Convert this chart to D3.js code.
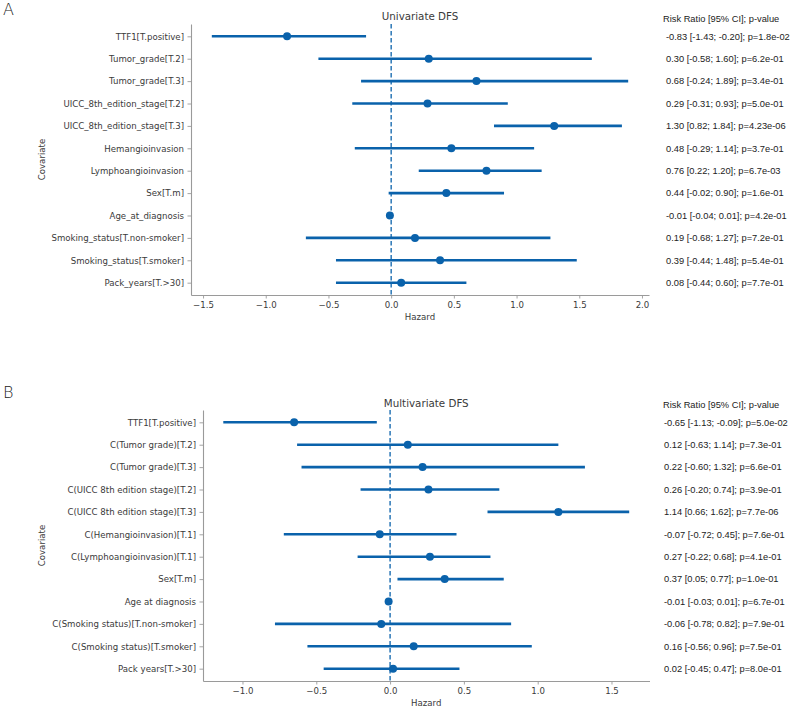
<!DOCTYPE html>
<html>
<head>
<meta charset="utf-8">
<script src="https://cdn.jsdelivr.net/npm/d3@7"></script>
<style>
  html, body { margin: 0; padding: 0; background: #fff; }
  svg { display: block; }
</style>
</head>
<body>
<svg id="chart" width="791" height="710"></svg>
<script>
// ---------- DATA ----------
const uniLabels = ["TTF1[T.positive]", "Tumor_grade[T.2]", "Tumor_grade[T.3]",
  "UICC_8th_edition_stage[T.2]", "UICC_8th_edition_stage[T.3]", "Hemangioinvasion",
  "Lymphoangioinvasion", "Sex[T.m]", "Age_at_diagnosis", "Smoking_status[T.non-smoker]",
  "Smoking_status[T.smoker]", "Pack_years[T.>30]"];
const uniCoef = [-0.83, 0.30, 0.68, 0.29, 1.30, 0.48, 0.76, 0.44, -0.01, 0.19, 0.39, 0.08];
const uniLow  = [-1.43, -0.58, -0.24, -0.31, 0.82, -0.29, 0.22, -0.02, -0.04, -0.68, -0.44, -0.44];
const uniHigh = [-0.20, 1.60, 1.89, 0.93, 1.84, 1.14, 1.20, 0.90, 0.01, 1.27, 1.48, 0.60];
const uniP    = ["1.8e-02", "6.2e-01", "3.4e-01", "5.0e-01", "4.23e-06", "3.7e-01",
  "6.7e-03", "1.6e-01", "4.2e-01", "7.2e-01", "5.4e-01", "7.7e-01"];
const uniTicks = [-1.5, -1.0, -0.5, 0.0, 0.5, 1.0, 1.5, 2.0];

const multiLabels = ["TTF1[T.positive]", "C(Tumor grade)[T.2]", "C(Tumor grade)[T.3]",
  "C(UICC 8th edition stage)[T.2]", "C(UICC 8th edition stage)[T.3]", "C(Hemangioinvasion)[T.1]",
  "C(Lymphoangioinvasion)[T.1]", "Sex[T.m]", "Age at diagnosis", "C(Smoking status)[T.non-smoker]",
  "C(Smoking status)[T.smoker]", "Pack years[T.>30]"];
const multiCoef = [-0.65, 0.12, 0.22, 0.26, 1.14, -0.07, 0.27, 0.37, -0.01, -0.06, 0.16, 0.02];
const multiLow  = [-1.13, -0.63, -0.60, -0.20, 0.66, -0.72, -0.22, 0.05, -0.03, -0.78, -0.56, -0.45];
const multiHigh = [-0.09, 1.14, 1.32, 0.74, 1.62, 0.45, 0.68, 0.77, 0.01, 0.82, 0.96, 0.47];
const multiP    = ["5.0e-02", "7.3e-01", "6.6e-01", "3.9e-01", "7.7e-06", "7.6e-01",
  "4.1e-01", "1.0e-01", "6.7e-01", "7.9e-01", "7.5e-01", "8.0e-01"];
const multiTicks = [-1.0, -0.5, 0.0, 0.5, 1.0, 1.5];

// ---------- STYLE ----------
const BLUE = "#0a62ab";
const SPINE = "#9a9a9a";
const TXT = "#3a3a3a";
const FONT = "'DejaVu Sans', sans-serif";
const AFONT = "'Liberation Sans', Arial, sans-serif";

const svg = d3.select("#chart");

function panel(cfg) {
  const g = svg.append("g");
  const lo = d3.min(cfg.low), hi = d3.max(cfg.high);
  const m = (hi - lo) * 0.05;
  const x = d3.scaleLinear().domain([lo - m, hi + m]).range([cfg.left, cfg.right]);
  const y = d3.scalePoint().domain(cfg.labels).range([cfg.top, cfg.bottom]).padding(0.55);

  const xa = g.append("g").attr("transform", `translate(0,${cfg.bottom})`)
    .call(d3.axisBottom(x).tickValues(cfg.ticks).tickSize(3.5).tickSizeOuter(0).tickPadding(3));
  const ya = g.append("g").attr("transform", `translate(${cfg.left},0)`)
    .call(d3.axisLeft(y).tickSize(3.5).tickSizeOuter(0).tickPadding(3.5));
  [xa, ya].forEach(a => {
    a.select(".domain").attr("stroke", SPINE).attr("stroke-width", 1.1);
    a.selectAll(".tick line").attr("stroke", SPINE).attr("stroke-width", 0.9);
    a.selectAll(".tick text").attr("fill", TXT).style("font-family", FONT).style("font-size", "8.6px");
  });
  xa.selectAll(".tick text").text(d => d.toFixed(1).replace("-", "\u2212"));

  // zero line
  g.append("line")
    .attr("x1", x(0)).attr("x2", x(0)).attr("y1", cfg.top).attr("y2", cfg.bottom)
    .attr("stroke", BLUE).attr("stroke-width", 1.3).attr("stroke-dasharray", "4.5,2.5");

  // CI lines
  g.selectAll("line.ci").data(cfg.labels).enter().append("line").attr("class", "ci")
    .attr("x1", (d, i) => x(cfg.low[i])).attr("x2", (d, i) => x(cfg.high[i]))
    .attr("y1", d => y(d)).attr("y2", d => y(d))
    .attr("stroke", BLUE).attr("stroke-width", 2.6);
  // points
  g.selectAll("circle.pt").data(cfg.labels).enter().append("circle").attr("class", "pt")
    .attr("cx", (d, i) => x(cfg.coef[i])).attr("cy", d => y(d)).attr("r", 4)
    .attr("fill", BLUE);

  // title
  g.append("text").attr("x", (cfg.left + cfg.right) / 2).attr("y", cfg.top - cfg.titleGap)
    .attr("text-anchor", "middle").attr("fill", TXT)
    .style("font-family", FONT).style("font-size", "10.3px").text(cfg.title);
  // axis labels
  g.append("text").attr("x", (cfg.left + cfg.right) / 2).attr("y", cfg.bottom + 25)
    .attr("text-anchor", "middle").attr("fill", TXT)
    .style("font-family", FONT).style("font-size", "8.6px").text("Hazard");
  g.append("text").attr("transform", `translate(45,${(cfg.top + cfg.bottom) / 2}) rotate(-90)`)
    .attr("text-anchor", "middle").attr("fill", TXT)
    .style("font-family", FONT).style("font-size", "8.6px").text("Covariate");
  // panel letter
  g.append("text").attr("x", 3).attr("y", cfg.letterY).attr("fill", "#222")
    .style("font-family", FONT).style("font-size", "16px").style("font-weight", "300").text(cfg.letter);

  // annotation column
  g.append("text").attr("x", 663).attr("y", cfg.top - 2).attr("fill", "#222")
    .style("font-family", AFONT).style("font-size", "9.3px").text("Risk Ratio [95% CI]; p-value");
  const f = v => v.toFixed(2);
  g.selectAll("text.ann").data(cfg.labels).enter().append("text").attr("class", "ann")
    .attr("x", cfg.annX).attr("y", d => y(d)).attr("dy", "0.35em").attr("fill", "#222")
    .style("font-family", AFONT).style("font-size", "9.3px")
    .text((d, i) => `${f(cfg.coef[i])} [${f(cfg.low[i])}; ${f(cfg.high[i])}]; p=${cfg.p[i]}`);
}

panel({ labels: uniLabels, coef: uniCoef, low: uniLow, high: uniHigh, p: uniP, ticks: uniTicks,
  left: 191, right: 649, top: 24, bottom: 295, title: "Univariate DFS", titleGap: 4,
  letter: "A", letterY: 15, annX: 666 });
panel({ labels: multiLabels, coef: multiCoef, low: multiLow, high: multiHigh, p: multiP, ticks: multiTicks,
  left: 203, right: 649.5, top: 410, bottom: 681, title: "Multivariate DFS", titleGap: 3.5,
  letter: "B", letterY: 398, annX: 664 });
</script>
</body>
</html>
